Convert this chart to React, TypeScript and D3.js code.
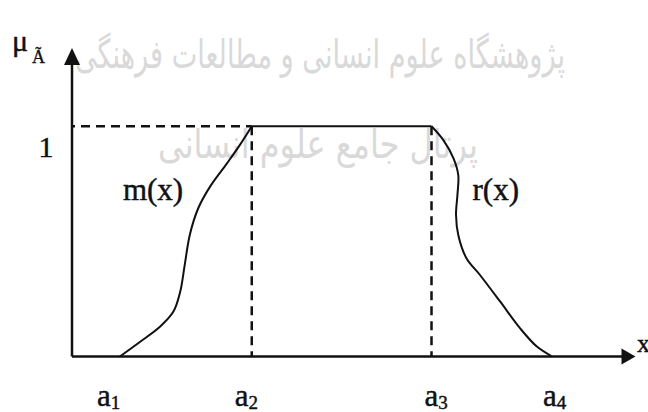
import React from "react";
import * as d3 from "d3";

// ---- data (membership function of a fuzzy number Ã) ----
const breakpoints = [0.85, 3.19, 6.38, 8.52]; // a1, a2, a3, a4
const breakLabels = ["1", "2", "3", "4"]; // subscripts of a
const leftX = [0.85, 1.21, 1.56, 1.8, 1.92, 2.0, 2.09, 2.24, 2.45, 2.75, 2.98, 3.19];
const leftY = [0, 0.064, 0.129, 0.195, 0.281, 0.397, 0.528, 0.644, 0.738, 0.839, 0.919, 1];
const rightX = [6.38, 6.59, 6.77, 6.855, 6.84, 6.815, 6.855, 7.0, 7.24, 7.6, 7.95, 8.25, 8.52];
const rightY = [1, 0.94, 0.861, 0.788, 0.702, 0.615, 0.528, 0.427, 0.354, 0.238, 0.123, 0.043, 0];
const yTickValues = [1];
const yTickLabels = ["1"];
const X_MAX = 10;
const Y_MAX = 1.34;
const watermarkTop = "پژوهشگاه علوم انسانی و مطالعات فرهنگی";
const watermarkBottom = "پرتال جامع علوم انسانی";

const W = 648;
const H = 412;

export default function App() {
  const x = d3.scaleLinear().domain([0, X_MAX]).range([72, 635.5]);
  const y = d3.scaleLinear().domain([0, Y_MAX]).range([356.5, 48]);
  const line = d3
    .line<[number, number]>()
    .x((d) => x(d[0]))
    .y((d) => y(d[1]))
    .curve(d3.curveCatmullRom.alpha(0.5));
  const straight = d3
    .line<[number, number]>()
    .x((d) => x(d[0]))
    .y((d) => y(d[1]));

  const leftPts: [number, number][] = leftX.map((v, i) => [v, leftY[i]]);
  const rightPts: [number, number][] = rightX.map((v, i) => [v, rightY[i]]);
  const [a1, a2, a3] = breakpoints;

  const x0 = x(0);
  const y0 = y(0);
  const yTop = y(Y_MAX);
  const xEnd = x(X_MAX);

  const font = "'Liberation Serif', 'Times New Roman', serif";
  const labelNudge = [-23, -17, -7, -9];

  return (
    <svg
      width={W}
      height={H}
      style={{ position: "absolute", left: 0, top: 0, display: "block", background: "#fff" }}
    >
      <rect width={W} height={H} fill="#fff" />
      {/* faint watermark */}
      <g fill="#d9d9d9" fontFamily="'DejaVu Sans', 'Noto Sans', sans-serif">
        <text x={320} y={68} fontSize={40} textAnchor="middle" direction="rtl" textLength={490} lengthAdjust="spacingAndGlyphs">
          {watermarkTop}
        </text>
        <text x={318} y={158} fontSize={40} textAnchor="middle" direction="rtl" textLength={320} lengthAdjust="spacingAndGlyphs">
          {watermarkBottom}
        </text>
      </g>

      {/* dashed guides */}
      <g stroke="#111" strokeWidth={2.5} fill="none" strokeDasharray="9,6">
        <path d={straight([[0, 1], [a2, 1]]) || ""} strokeDashoffset={-9} />
        <path d={straight([[a2, 1], [a2, 0]]) || ""} />
        <path d={straight([[a3, 1], [a3, 0]]) || ""} />
      </g>

      {/* membership function */}
      <g stroke="#111" strokeWidth={2} fill="none" strokeLinejoin="round">
        <path d={line(leftPts) || ""} />
        <path d={straight([[a2, 1], [a3, 1]]) || ""} />
        <path d={line(rightPts) || ""} />
      </g>

      {/* axes */}
      <g stroke="#111" strokeWidth={2.5} fill="none">
        <line x1={x0} y1={y0} x2={x0} y2={yTop + 14} />
        <line x1={x0} y1={y0} x2={xEnd - 12} y2={y0} />
      </g>
      <path d={`M${x0},${yTop} L${x0 - 8},${yTop + 17} L${x0 + 8},${yTop + 17} Z`} fill="#111" />
      <path d={`M${xEnd},${y0} L${xEnd - 14},${y0 - 8} L${xEnd - 14},${y0 + 8} Z`} fill="#111" />

      {/* text */}
      <g fontFamily={font} fill="#111" stroke="#111" strokeWidth={0.45}>
        <text x={12} y={51} fontSize={30}>μ</text>
        <text x={32} y={63} fontSize={18} strokeWidth={0.3}>Ã</text>
        {yTickValues.map((v, i) => (
          <text key={v} x={46} y={y(v) + 31} fontSize={30} textAnchor="middle">
            {yTickLabels[i]}
          </text>
        ))}
        <text x={x(a1) + 3} y={199.5} fontSize={31}>m(x)</text>
        <text x={x(a3) + 41} y={199.5} fontSize={31}>r(x)</text>
        {breakpoints.map((b, i) => (
          <text key={i} x={x(b) + labelNudge[i]} y={406} fontSize={31}>
            a
            <tspan fontSize={19} dy={3}>{breakLabels[i]}</tspan>
          </text>
        ))}
        <text x={637} y={352} fontSize={26}>x</text>
      </g>
    </svg>
  );
}
